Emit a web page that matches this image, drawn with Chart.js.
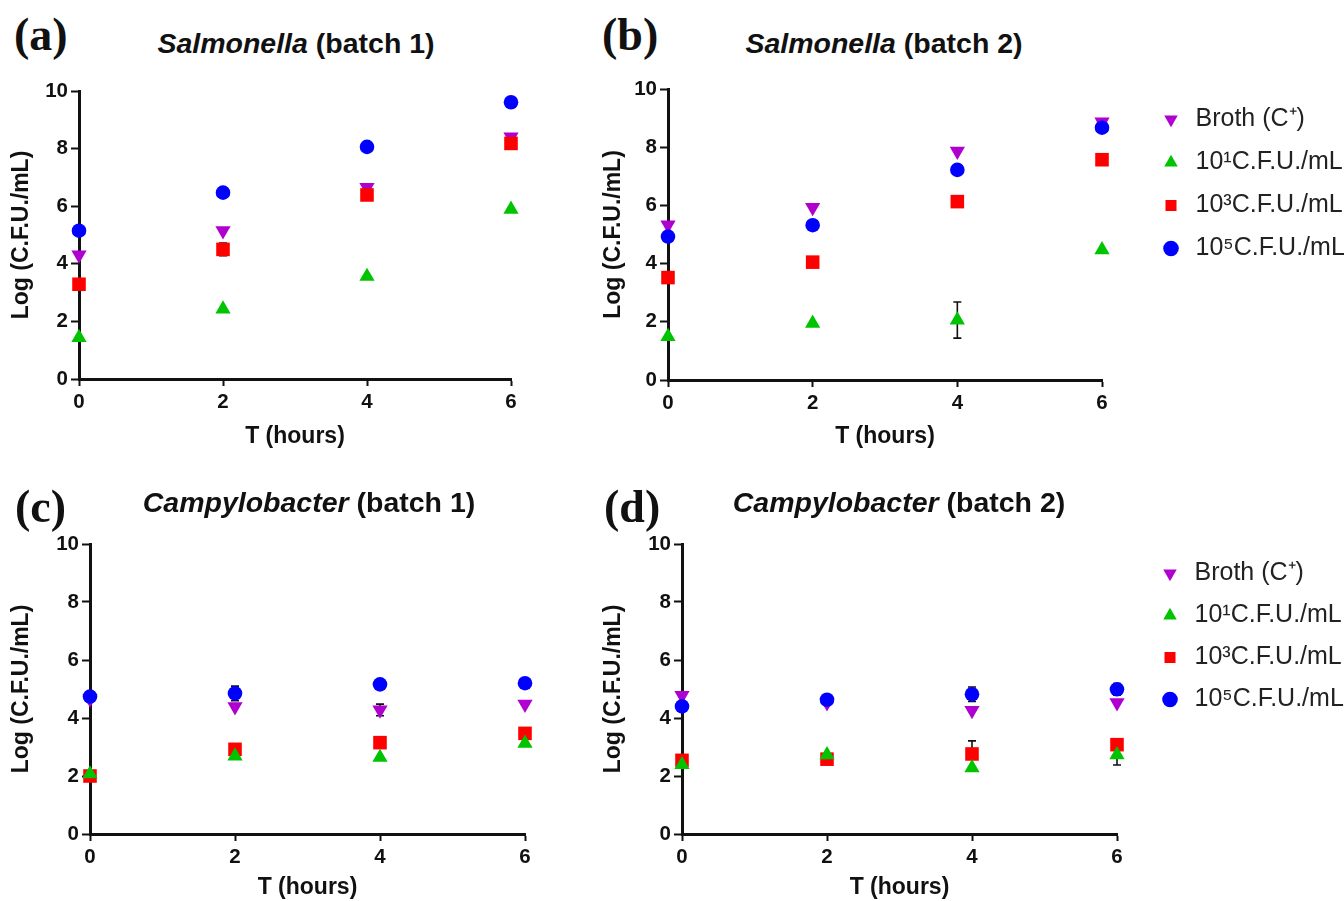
<!DOCTYPE html>
<html>
<head>
<meta charset="utf-8">
<script src="https://cdn.jsdelivr.net/npm/chart.js@4"></script>
<style>
  html, body { margin: 0; padding: 0; background: #fff; overflow: hidden; }
  #wrap { position: relative; width: 1344px; height: 901px; overflow: hidden; background: #fff; }
  canvas { position: absolute; }
  .plab { position: absolute; font-family: 'Liberation Serif', 'Times New Roman', serif; font-weight: bold; font-size: 46px; line-height: 1; transform: translateY(-50%); color: #111; z-index: 2; }
  .ptitle { position: absolute; font-family: 'Liberation Sans', Arial, sans-serif; font-weight: bold; font-size: 28.5px; line-height: 1; transform: translate(-50%, -50%); white-space: nowrap; color: #111; z-index: 2; }
</style>
</head>
<body>
<div id="wrap">
  <div class="plab" style="left:14px; top:35px;">(a)</div>
  <div class="ptitle" style="left:296px; top:43px;"><i>Salmonella</i> (batch 1)</div>
  <div class="plab" style="left:602px; top:35px;">(b)</div>
  <div class="ptitle" style="left:884px; top:43px;"><i>Salmonella</i> (batch 2)</div>
  <div class="plab" style="left:15px; top:507px;">(c)</div>
  <div class="ptitle" style="left:309px; top:502px;"><i>Campylobacter</i> (batch 1)</div>
  <div class="plab" style="left:604px; top:507px;">(d)</div>
  <div class="ptitle" style="left:899px; top:502px;"><i>Campylobacter</i> (batch 2)</div>

  <canvas id="ca" width="560" height="391" style="left:0px; top:60px;"></canvas>
  <canvas id="cb" width="779" height="392" style="left:580px; top:60px;"></canvas>
  <canvas id="cc" width="560" height="404" style="left:0px; top:500px;"></canvas>
  <canvas id="cd" width="769" height="404" style="left:590px; top:500px;"></canvas>
</div>
<script>
// ---- shared categories / labels ----
const hours = [0, 2, 4, 6];
const yTicks = [0, 2, 4, 6, 8, 10];
const seriesLabels = ['Broth (C\u207A)', '10\u00B9C.F.U./mL', '10\u00B3C.F.U./mL', '10\u2075C.F.U./mL'];

// ---- (a) Salmonella batch 1 ----
const aBroth = [4.31, 5.15, 6.65, 8.41];
const aC1    = [1.44, 2.43, 3.56, 5.89];
const aC3    = [3.29, 4.50, 6.39, 8.18];
const aC5    = [5.15, 6.47, 8.06, 9.61];
const aErrBroth = [0, 0, 0, 0];
const aErrC1    = [0, 0, 0, 0];
const aErrC3    = [0, 0.22, 0, 0];
const aErrC5    = [0, 0, 0, 0];

// ---- (b) Salmonella batch 2 ----
const bBroth = [5.33, 5.93, 7.86, 8.87];
const bC1    = [1.49, 1.95, 2.06, 4.47];
const bC3    = [3.52, 4.05, 6.13, 7.57];
const bC5    = [4.93, 5.32, 7.22, 8.67];
const bErrBroth = [0, 0, 0, 0];
const bErrC1    = [0, 0, 0.62, 0];
const bErrC3    = [0, 0, 0, 0];
const bErrC5    = [0, 0, 0, 0];

// ---- (c) Campylobacter batch 1 ----
const cBroth = [4.66, 4.39, 4.28, 4.48];
const cC1    = [2.07, 2.69, 2.64, 3.13];
const cC3    = [2.00, 2.92, 3.15, 3.47];
const cC5    = [4.74, 4.85, 5.16, 5.20];
const cErrBroth = [0, 0, 0.2, 0];
const cErrC1    = [0, 0, 0, 0];
const cErrC3    = [0, 0, 0, 0];
const cErrC5    = [0.15, 0.25, 0, 0];

// ---- (d) Campylobacter batch 2 ----
const dBroth = [4.78, 4.53, 4.26, 4.53];
const dC1    = [2.39, 2.73, 2.28, 2.73];
const dC3    = [2.54, 2.58, 2.76, 3.08];
const dC5    = [4.40, 4.63, 4.82, 4.99];
const dErrBroth = [0, 0, 0, 0];
const dErrC1    = [0, 0, 0, 0.35];
const dErrC3    = [0, 0, 0.45, 0];
const dErrC5    = [0, 0, 0.25, 0.2];

const FAMILY = "'Liberation Sans', Arial, sans-serif";
Chart.defaults.font.family = FAMILY;
Chart.defaults.color = '#111';

const LEG_FONT = 25, LEG_BOX = 24;

function legendWidth(pad) {
  const c = document.createElement('canvas').getContext('2d');
  c.font = 'normal ' + LEG_FONT + 'px ' + FAMILY;
  const tw = Math.max(...seriesLabels.map(t => c.measureText(t).width));
  return pad + LEG_BOX + LEG_FONT / 2 + tw + 10;
}

const errorBarPlugin = {
  id: 'errorBars',
  beforeDatasetsDraw(chart) {
    const ctx = chart.ctx;
    const xs = chart.scales.x, ys = chart.scales.y;
    chart.data.datasets.forEach(ds => {
      if (!ds.errors) return;
      ds.errors.forEach((e, i) => {
        if (!e) return;
        const px = xs.getPixelForValue(ds.data[i].x);
        const top = ys.getPixelForValue(ds.data[i].y + e);
        const bot = ys.getPixelForValue(ds.data[i].y - e);
        ctx.save();
        ctx.strokeStyle = '#111';
        ctx.lineWidth = 1.6;
        ctx.beginPath();
        ctx.moveTo(px, top); ctx.lineTo(px, bot);
        ctx.moveTo(px - 4, top); ctx.lineTo(px + 4, top);
        ctx.moveTo(px - 4, bot); ctx.lineTo(px + 4, bot);
        ctx.stroke();
        ctx.restore();
      });
    });
  }
};

const styles = [
  { color: '#b000d0', pointStyle: 'triangle', rotation: 180, radius: 8.8, order: 3 },
  { color: '#00c400', pointStyle: 'triangle', rotation: 0,   radius: 8.8, order: 1 },
  { color: '#ff0000', pointStyle: 'rect',     rotation: 0,   radius: 9.6, order: 2 },
  { color: '#0000ff', pointStyle: 'circle',   rotation: 0,   radius: 7.3, order: 0 }
];

function makePanel(id, series, errs, lay) {
  const canvas = document.getElementById(id);
  const datasets = series.map((vals, k) => ({
    label: seriesLabels[k],
    data: hours.map((h, i) => ({ x: h, y: vals[i] })),
    errors: errs[k],
    showLine: false,
    backgroundColor: styles[k].color,
    borderColor: styles[k].color,
    borderWidth: 0,
    pointBorderWidth: 0,
    pointStyle: styles[k].pointStyle,
    pointRotation: styles[k].rotation,
    pointRadius: styles[k].radius,
    pointHoverRadius: styles[k].radius,
    order: styles[k].order,
    clip: false
  }));
  const scales = {
    x: {
      type: 'linear', position: 'bottom', min: 0, max: 6,
      afterBuildTicks: s => { s.ticks = hours.map(v => ({ value: v })); },
      border: { display: true, color: '#111', width: 3 },
      grid: { display: true, drawOnChartArea: false, drawTicks: true, tickLength: 7, tickWidth: 2, tickColor: '#111' },
      ticks: { font: { size: 20.5, weight: 'bold' }, color: '#111', padding: 4, maxRotation: 0 },
      title: { display: true, text: 'T (hours)', font: { size: 23, weight: 'bold', lineHeight: 1 }, color: '#111', padding: { top: 0, bottom: lay.xtPad } },
      afterFit: s => { s.height = 70; }
    },
    y: {
      type: 'linear', position: 'left', min: 0, max: 10,
      afterBuildTicks: s => { s.ticks = yTicks.map(v => ({ value: v })); },
      border: { display: true, color: '#111', width: 3 },
      grid: { display: true, drawOnChartArea: false, drawTicks: true, tickLength: 8, tickWidth: 2, tickColor: '#111' },
      ticks: { font: { size: 20.5, weight: 'bold' }, color: '#111', padding: 3 },
      title: { display: true, text: 'Log (C.F.U./mL)', font: { size: 23, weight: 'bold', lineHeight: 1 }, color: '#111', padding: { top: lay.ytPad, bottom: 0 } },
      afterFit: s => { s.width = lay.yW; }
    }
  };
  let pr = lay.pr;
  if (lay.legend) {
    scales.gap = {
      type: 'linear', position: 'right', axis: 'y', display: true,
      grid: { display: false }, border: { display: false }, ticks: { display: false },
      title: { display: false },
      afterFit: s => { s.width = lay.gap; }
    };
    // room on the right so that the plot area ends where the reference's does
    pr = Math.max(0, canvas.width - (lay.plotRight - lay.canvasLeft) - lay.gap - legendWidth(lay.lp));
  }
  new Chart(canvas, {
    type: 'scatter',
    data: { datasets },
    options: {
      responsive: false,
      animation: false,
      devicePixelRatio: 1,
      layout: { padding: { left: 0, top: lay.pt, right: pr, bottom: lay.pb } },
      scales,
      plugins: {
        tooltip: { enabled: false },
        legend: lay.legend ? {
          display: true,
          position: 'right',
          align: 'start',
          maxWidth: 500,
          labels: {
            usePointStyle: true,
            boxWidth: LEG_BOX,
            boxHeight: 11,
            padding: lay.lp,
            color: '#222',
            font: { size: LEG_FONT, weight: 'normal' },
            sort: (a, b) => a.datasetIndex - b.datasetIndex
          }
        } : { display: false }
      }
    },
    plugins: [errorBarPlugin]
  });
}

makePanel('ca', [aBroth, aC1, aC3, aC5], [aErrBroth, aErrC1, aErrC3, aErrC5],
  { yW: 79, ytPad: 10, xtPad: 1, pt: 31, pr: 49, pb: 2, legend: false });
makePanel('cb', [bBroth, bC1, bC3, bC5], [bErrBroth, bErrC1, bErrC3, bErrC5],
  { yW: 88, ytPad: 22, xtPad: 2, pt: 29, pb: 2, legend: true, gap: 39, lp: 18, plotRight: 1102, canvasLeft: 580 });
makePanel('cc', [cBroth, cC1, cC3, cC5], [cErrBroth, cErrC1, cErrC3, cErrC5],
  { yW: 90, ytPad: 10, xtPad: 5, pt: 44, pr: 35, pb: 0, legend: false });
makePanel('cd', [dBroth, dC1, dC3, dC5], [dErrBroth, dErrC1, dErrC3, dErrC5],
  { yW: 92, ytPad: 12, xtPad: 5, pt: 44, pb: 0, legend: true, gap: 24, lp: 17, plotRight: 1117, canvasLeft: 590 });
</script>
</body>
</html>
